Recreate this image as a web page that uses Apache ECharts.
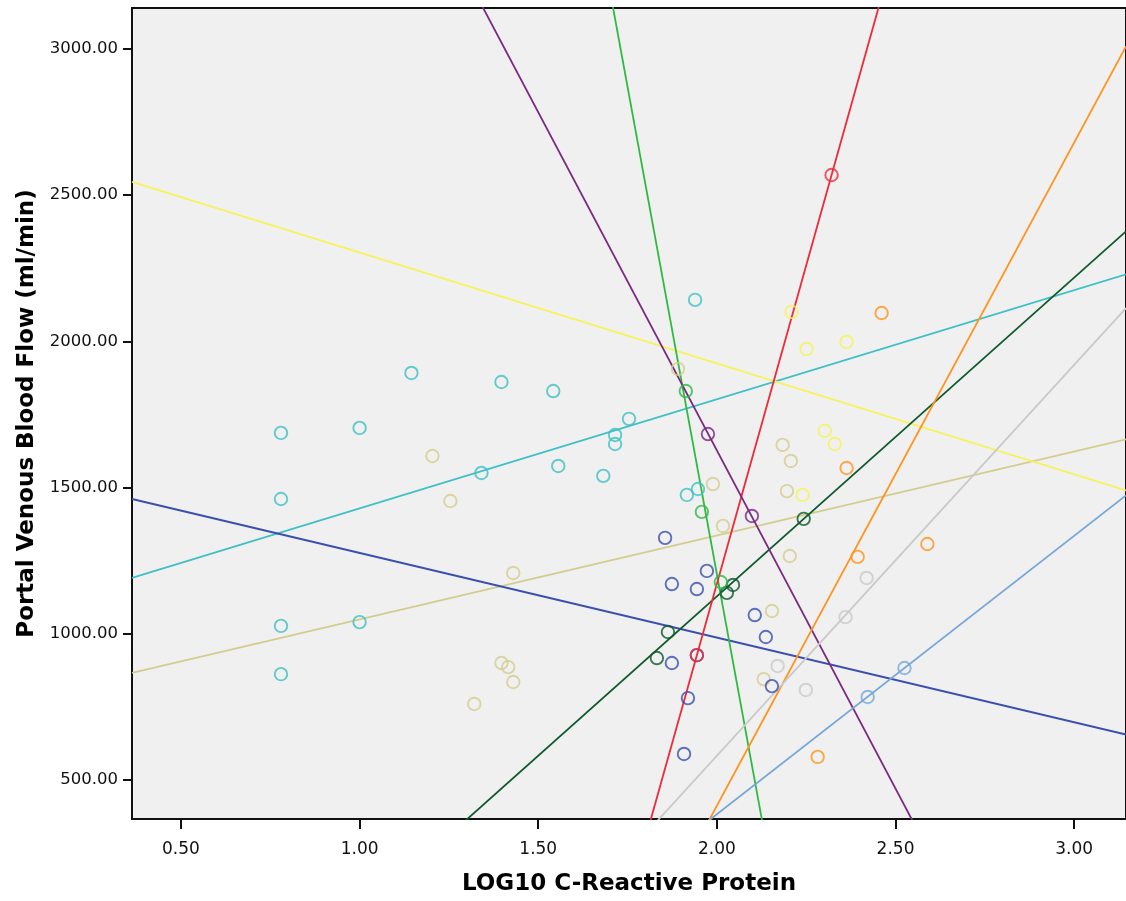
<!DOCTYPE html>
<html>
<head>
<meta charset="utf-8">
<script src="https://cdn.jsdelivr.net/npm/echarts@6/dist/echarts.min.js"></script>
<style>
  html, body { margin: 0; padding: 0; background: #ffffff; }
  #chart { width: 1126px; height: 901px; }
</style>
</head>
<body>
<div id="chart"></div>
<script>
// ---- Data ----
const xTickValues = [0.5, 1.0, 1.5, 2.0, 2.5, 3.0];
const yTickValues = [500, 1000, 1500, 2000, 2500, 3000];
const xTitle = 'LOG10 C-Reactive Protein';
const yTitle = 'Portal Venous Blood Flow (ml/min)';

const groupKeys = ['cyan', 'tan', 'blue', 'yellow', 'darkGreen', 'green', 'red', 'purple', 'orange', 'gray', 'lightBlue'];

const pointsCyan = [[0.78,1687],[0.78,1461],[0.78,1027],[0.78,862],[1.00,1704],[1.00,1040],[1.145,1892],[1.341,1550],[1.397,1861],[1.542,1830],[1.556,1574],[1.682,1540],[1.715,1680],[1.715,1649],[1.754,1735],[1.939,2142],[1.947,1495],[1.916,1475]];
const pointsTan = [[1.204,1608],[1.254,1454],[1.430,1208],[1.397,900],[1.416,886],[1.430,835],[1.321,760],[1.891,1906],[2.184,1646],[2.207,1591],[1.989,1512],[2.196,1488],[2.017,1369],[2.204,1266],[2.154,1078],[2.131,845]];
const pointsBlue = [[1.855,1328],[1.972,1215],[1.874,1170],[1.944,1153],[2.106,1064],[2.137,989],[1.874,900],[1.944,927],[2.154,821],[1.919,780],[1.908,589]];
const pointsYellow = [[2.209,2101],[2.251,1974],[2.363,1998],[2.302,1694],[2.330,1649],[2.240,1475]];
const pointsDarkGreen = [[2.243,1393],[2.045,1167],[2.028,1140],[1.863,1006],[1.832,917]];
const pointsGreen = [[1.913,1830],[1.958,1417],[2.011,1177]];
const pointsRed = [[2.321,2569],[1.944,927]];
const pointsPurple = [[1.975,1683],[2.098,1403]];
const pointsOrange = [[2.461,2097],[2.363,1567],[2.394,1263],[2.589,1307],[2.282,579]];
const pointsGray = [[2.170,890],[2.249,808],[2.360,1057],[2.419,1191]];
const pointsLightBlue = [[2.422,784],[2.525,883]];

// Fit lines (y = intercept + slope * x)
const fitIntercept = [1056, 762, 1566, 2683, -1052, 14532, -7539, 6253, -4124, -2091, -1521];
const fitSlope = [373, 287, -289.5, -379.2, 1090, -6664, 4355, -2313, 2268, 1337, 952];

// ---- Styles ----
const groupColors = {
  cyan: '#3fc0c4', tan: '#d4cc8f', blue: '#3a4fae', yellow: '#f8f25a',
  darkGreen: '#0e5a2d', green: '#30b943', red: '#ee2a3a', purple: '#7a2b80',
  orange: '#ff931c', gray: '#c9c9c9', lightBlue: '#77a7d8'
};

const groupPoints = [pointsCyan, pointsTan, pointsBlue, pointsYellow, pointsDarkGreen, pointsGreen, pointsRed, pointsPurple, pointsOrange, pointsGray, pointsLightBlue];

const X_MIN = 0.363, X_MAX = 3.145, Y_MIN = 366.6, Y_MAX = 3140;

const series = [];
groupKeys.forEach((k, i) => {
  const c = groupColors[k];
  series.push({
    type: 'line',
    data: [[X_MIN, fitIntercept[i] + fitSlope[i] * X_MIN], [X_MAX, fitIntercept[i] + fitSlope[i] * X_MAX]],
    showSymbol: false,
    clip: true,
    silent: true,
    lineStyle: { color: c, width: 1.8 },
    z: 2
  });
});
groupKeys.forEach((k, i) => {
  const c = groupColors[k];
  series.push({
    type: 'scatter',
    data: groupPoints[i],
    symbol: 'circle',
    symbolSize: 12.5,
    itemStyle: { color: 'rgba(0,0,0,0)', borderColor: c, borderWidth: 1.9 },
    z: 3
  });
});

const chart = echarts.init(document.getElementById('chart'), null, { renderer: 'canvas' });
chart.setOption({
  animation: false,
  backgroundColor: '#ffffff',
  grid: {
    left: 132, top: 8, right: -2, bottom: 82,
    show: true, backgroundColor: '#f0f0f0', borderColor: '#111', borderWidth: 2
  },
  xAxis: {
    type: 'value', min: X_MIN, max: X_MAX,
    name: xTitle, nameLocation: 'middle', nameGap: 54,
    nameTextStyle: { fontFamily: 'DejaVu Sans', fontWeight: 'bold', fontSize: 23, color: '#000' },
    axisLine: { show: true, lineStyle: { color: '#111', width: 2 } },
    axisTick: { show: true, customValues: xTickValues, length: 10, lineStyle: { color: '#111', width: 2 } },
    axisLabel: { customValues: xTickValues, margin: 22, fontFamily: 'DejaVu Sans', fontSize: 17, color: '#111',
      formatter: v => Number(v).toFixed(2) },
    splitLine: { show: false }
  },
  yAxis: {
    type: 'value', min: Y_MIN, max: Y_MAX,
    name: yTitle, nameLocation: 'middle', nameGap: 92,
    nameTextStyle: { fontFamily: 'DejaVu Sans', fontWeight: 'bold', fontSize: 23, color: '#000' },
    axisLine: { show: true, lineStyle: { color: '#111', width: 2 } },
    axisTick: { show: true, customValues: yTickValues, length: 9, lineStyle: { color: '#111', width: 2 } },
    axisLabel: { customValues: yTickValues, margin: 14, fontFamily: 'DejaVu Sans', fontSize: 16.5, color: '#111',
      formatter: v => Number(v).toFixed(2) },
    splitLine: { show: false }
  },
  series: series
});
</script>
</body>
</html>
